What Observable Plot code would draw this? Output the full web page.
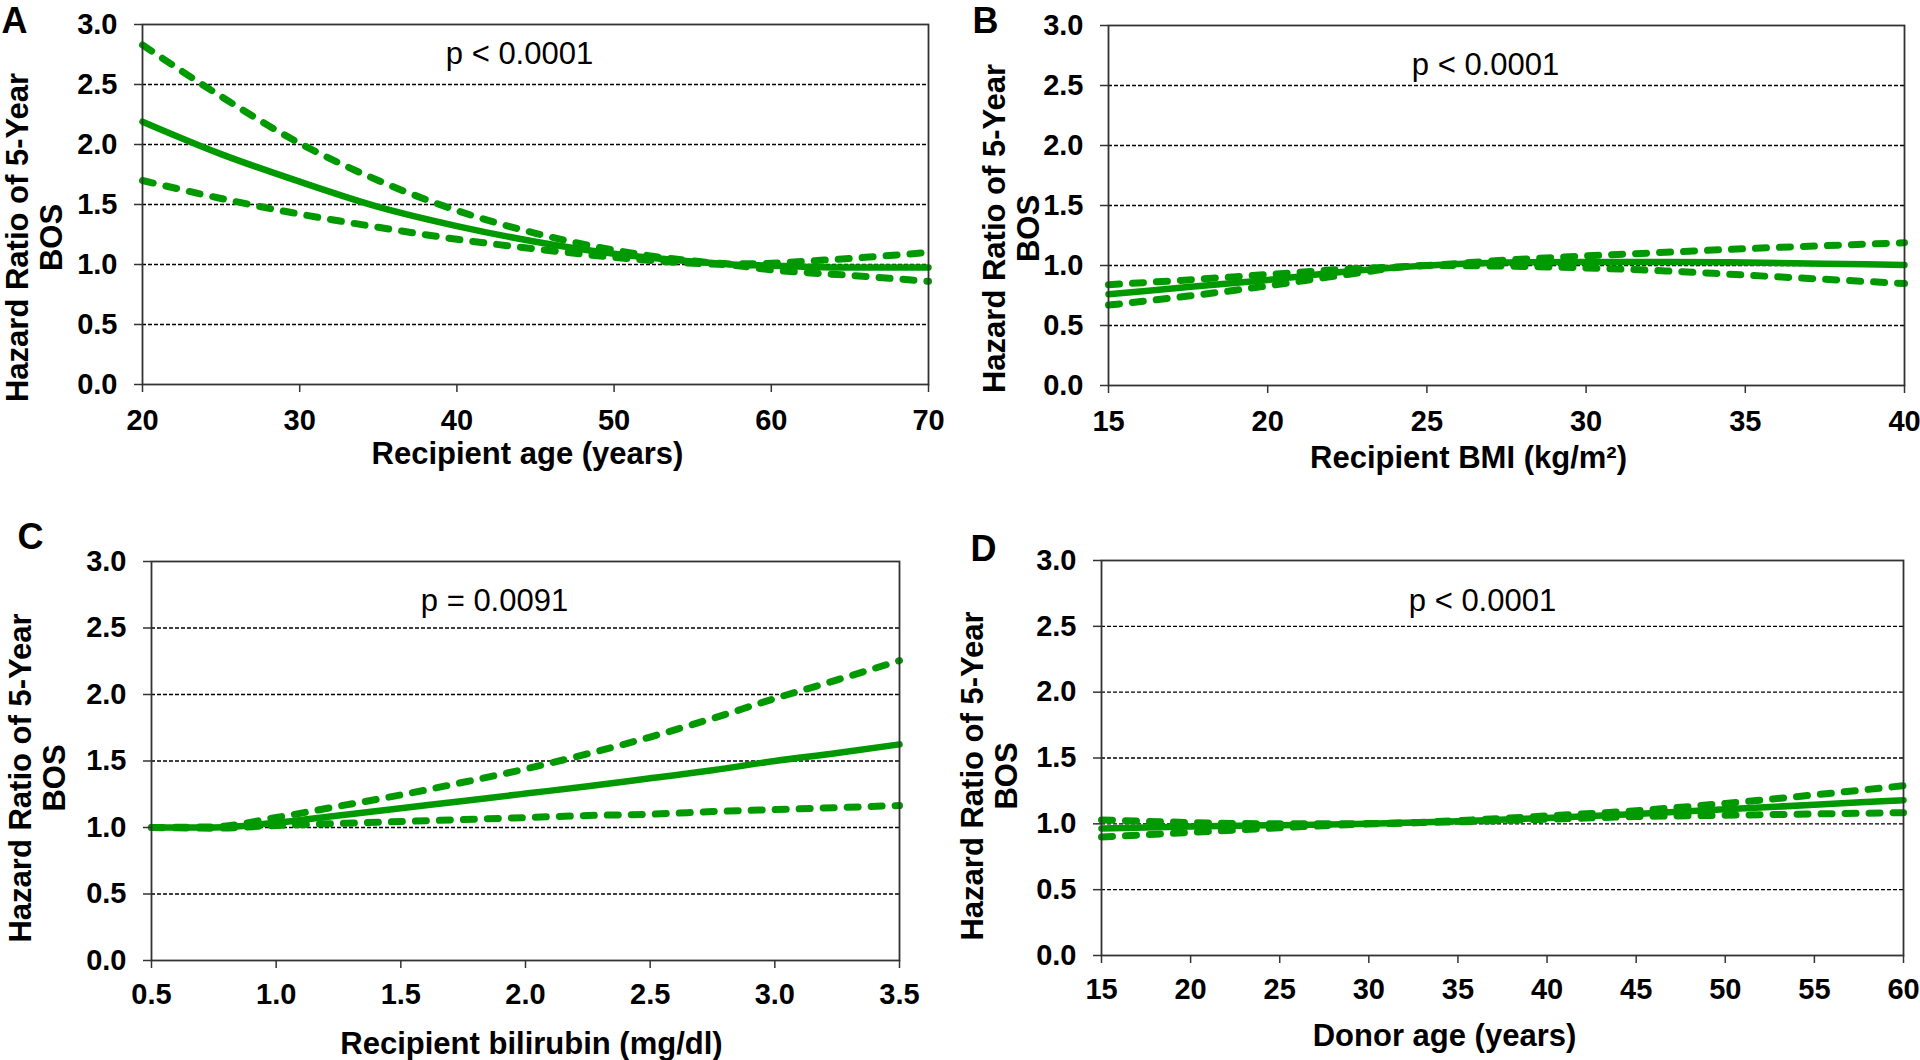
<!DOCTYPE html>
<html><head><meta charset="utf-8">
<script src="https://cdn.jsdelivr.net/npm/d3@7"></script>
<script src="https://cdn.jsdelivr.net/npm/@observablehq/plot@0.6"></script>
<style>
body{margin:0;background:#fff;}
#chart{position:relative;width:1920px;height:1060px;background:#fff;}
#chart svg{position:absolute;overflow:visible;}
</style></head><body><div id="chart"></div>
<script>
// ---- data ----
const yTicks = [0, 0.5, 1, 1.5, 2, 2.5, 3];
const yGrid = [0.5, 1, 1.5, 2, 2.5];
const yTitle = "Hazard Ratio of 5-Year\nBOS";

// Panel A: recipient age
const ageA   = [20, 25, 30, 35, 40, 45, 50, 55, 57.5, 60, 62.5, 65, 67.5, 70];
const hrA    = [2.19, 1.92, 1.69, 1.48, 1.32, 1.19, 1.09, 1.025, 1.0, 0.99, 0.98, 0.975, 0.975, 0.975];
const upA    = [2.83, 2.40, 2.01, 1.70, 1.45, 1.26, 1.12, 1.03, 1.005, 1.01, 1.03, 1.05, 1.075, 1.10];
const loA    = [1.70, 1.55, 1.42, 1.31, 1.21, 1.13, 1.06, 1.01, 0.995, 0.955, 0.93, 0.91, 0.885, 0.86];
const ticksA = [20, 30, 40, 50, 60, 70];

// Panel B: recipient BMI
const bmiB   = [15, 17.5, 20, 22.5, 25, 27.5, 30, 32.5, 35, 37.5, 40];
const hrB    = [0.76, 0.82, 0.88, 0.95, 1.00, 1.025, 1.03, 1.03, 1.025, 1.015, 1.005];
const upB    = [0.84, 0.88, 0.925, 0.97, 1.00, 1.045, 1.08, 1.11, 1.14, 1.165, 1.19];
const loB    = [0.67, 0.745, 0.83, 0.925, 1.00, 0.995, 0.98, 0.955, 0.92, 0.885, 0.85];
const ticksB = [15, 20, 25, 30, 35, 40];

// Panel C: recipient bilirubin
const bilC   = [0.5, 0.75, 1.0, 1.25, 1.5, 1.75, 2.0, 2.25, 2.5, 2.75, 3.0, 3.25, 3.5];
const hrC    = [1.0, 1.0, 1.035, 1.09, 1.145, 1.2, 1.255, 1.31, 1.37, 1.43, 1.50, 1.56, 1.625];
const upC    = [1.0, 1.005, 1.075, 1.16, 1.245, 1.34, 1.44, 1.555, 1.68, 1.82, 1.97, 2.11, 2.255];
const loC    = [1.0, 0.995, 1.015, 1.03, 1.045, 1.06, 1.075, 1.09, 1.10, 1.12, 1.135, 1.15, 1.165];
const ticksC = [0.5, 1.0, 1.5, 2.0, 2.5, 3.0, 3.5];

// Panel D: donor age
const ageD   = [15, 20, 25, 30, 35, 40, 45, 50, 55, 60];
const hrD    = [0.965, 0.98, 0.99, 1.0, 1.02, 1.045, 1.075, 1.11, 1.145, 1.18];
const upD    = [1.03, 1.01, 1.0, 1.0, 1.025, 1.06, 1.10, 1.155, 1.22, 1.29];
const loD    = [0.90, 0.935, 0.97, 1.0, 1.015, 1.035, 1.055, 1.065, 1.075, 1.085];
const ticksD = [15, 20, 25, 30, 35, 40, 45, 50, 55, 60];

const letters = ["A", "B", "C", "D"];
const pTexts  = ["p < 0.0001", "p < 0.0001", "p = 0.0091", "p < 0.0001"];
const xTitles = ["Recipient age (years)", "Recipient BMI (kg/m²)", "Recipient bilirubin (mg/dl)", "Donor age (years)"];

// ---- drawing ----
const FONT = '"Liberation Sans", Arial, Helvetica, sans-serif';
const GREEN = "#009a00";
const chart = document.getElementById("chart");

function makePanel(o) {
  const rows = o.xs.map((x, i) => ({x, hr: o.hr[i], lo: o.lo[i], hi: o.hi[i]}));
  const [fl, ft, fr, fb] = o.frame;
  const dash = {stroke: GREEN, strokeWidth: 7, strokeDasharray: "11,13", strokeLinecap: "round", curve: "monotone-x"};
  const svg = Plot.plot({
    width: o.w, height: o.h,
    marginLeft: fl - o.left, marginTop: ft - o.top,
    marginRight: o.left + o.w - fr, marginBottom: o.top + o.h - fb,
    x: {domain: [o.ticks[0], o.ticks[o.ticks.length - 1]]},
    y: {domain: [0, 3]},
    style: {fontFamily: FONT, fontSize: "29px", fontWeight: "bold", color: "#000", background: "transparent", overflow: "visible"},
    marks: [
      Plot.ruleY(yGrid, {stroke: "#000", strokeWidth: 1.3, strokeDasharray: "4,2"}),
      Plot.line(rows, {x: "x", y: "hi", ...dash}),
      Plot.line(rows, {x: "x", y: "lo", ...dash}),
      Plot.line(rows, {x: "x", y: "hr", stroke: GREEN, strokeWidth: 6.5, curve: "monotone-x"}),
      Plot.frame({stroke: "#333", strokeWidth: 1.8}),
      Plot.axisX({ticks: o.ticks, tickFormat: o.fmt, tickSize: 8, tickPadding: o.xPad, label: null, stroke: "#333", strokeWidth: 1.5}),
      Plot.axisY({ticks: yTicks, tickFormat: d => d.toFixed(1), tickSize: 8, tickPadding: 17, label: null, stroke: "#333", strokeWidth: 1.5}),
      Plot.text([o.xTitle], {text: d => d, frameAnchor: "bottom", dx: o.xl[0], dy: o.xl[1], fontSize: 31, fontWeight: "bold", lineAnchor: "middle"}),
      Plot.text([yTitle], {text: d => d, frameAnchor: "left", rotate: -90, dx: o.yt[0], dy: o.yt[1], fontSize: 31, fontWeight: "bold", lineAnchor: "middle", textAnchor: "middle", lineHeight: 1.1}),
      Plot.text([o.p], {text: d => d, frameAnchor: "top", dx: o.pp[0], dy: o.pp[1], fontSize: 31, fontWeight: "normal", lineAnchor: "top"}),
      Plot.text([o.letter], {text: d => d, frameAnchor: "top-left", dx: o.lt[0], dy: o.lt[1], fontSize: 36, fontWeight: "bold", lineAnchor: "top", textAnchor: "middle"})
    ]
  });
  svg.style.left = o.left + "px";
  svg.style.top = o.top + "px";
  chart.appendChild(svg);
}

const intFmt = d => String(d);
const decFmt = d => d.toFixed(1);

makePanel({xs: ageA, hr: hrA, hi: upA, lo: loA, ticks: ticksA, fmt: intFmt,
  left: 0, top: 0, w: 960, h: 500, frame: [142, 24, 928, 384], xPad: 17,
  xTitle: xTitles[0], xl: [-8, 70], yt: [-108, 33], p: pTexts[0], pp: [-16, 17], letter: letters[0], lt: [-128, -17]});
makePanel({xs: bmiB, hr: hrB, hi: upB, lo: loB, ticks: ticksB, fmt: intFmt,
  left: 960, top: 0, w: 960, h: 500, frame: [1108, 25, 1904, 385], xPad: 17,
  xTitle: xTitles[1], xl: [-38, 73], yt: [-97, 23], p: pTexts[1], pp: [-21, 27], letter: letters[1], lt: [-123, -18]});
makePanel({xs: bilC, hr: hrC, hi: upC, lo: loC, ticks: ticksC, fmt: decFmt,
  left: 0, top: 520, w: 960, h: 540, frame: [151, 561, 899, 960], xPad: 15,
  xTitle: xTitles[2], xl: [6, 84], yt: [-114, 17], p: pTexts[2], pp: [-31, 27], letter: letters[2], lt: [-121, -38]});
makePanel({xs: ageD, hr: hrD, hi: upD, lo: loD, ticks: ticksD, fmt: intFmt,
  left: 960, top: 520, w: 960, h: 540, frame: [1101, 560, 1903, 955], xPad: 15,
  xTitle: xTitles[3], xl: [-58, 81], yt: [-112, 18], p: pTexts[3], pp: [-20, 28], letter: letters[3], lt: [-118, -25]});
</script>
</body></html>
